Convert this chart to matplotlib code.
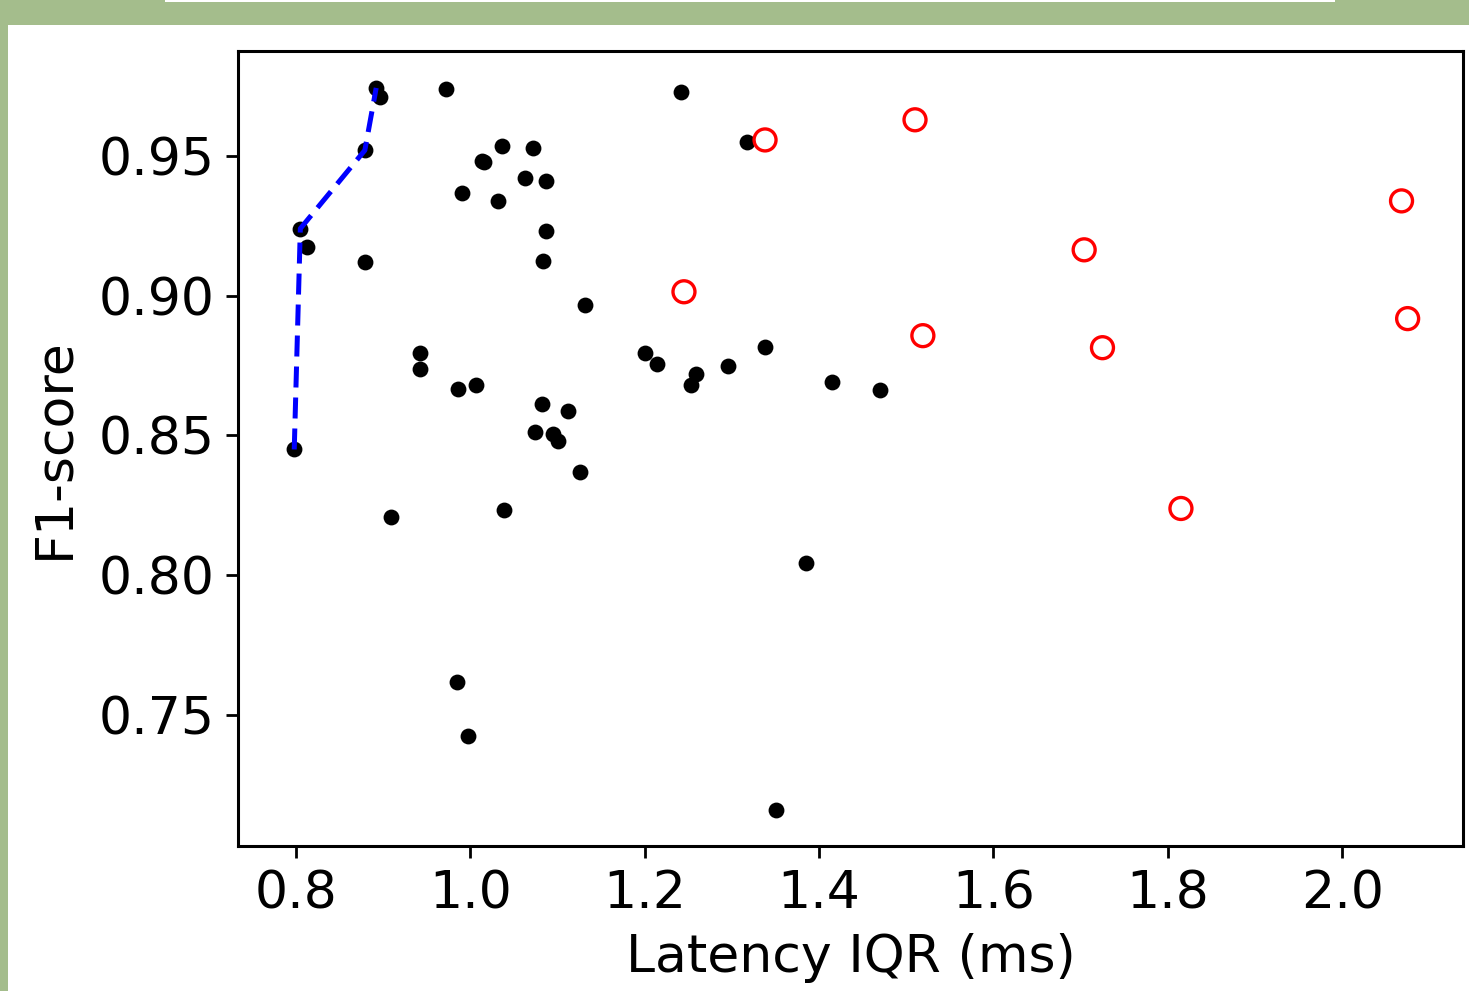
import matplotlib
matplotlib.use("Agg")
import matplotlib.pyplot as plt
from matplotlib.patches import Rectangle

# Data
black_x = [0.798, 0.805, 0.813, 0.879, 0.892, 0.896, 0.879, 0.909, 0.972, 0.990,
           1.013, 1.016, 1.036, 1.032, 1.063, 1.072, 1.087, 1.087, 1.083, 1.132,
           0.942, 0.942, 0.986, 1.006, 1.082, 1.112, 1.074, 1.095, 1.100, 1.126,
           1.039, 0.985, 0.997, 1.242, 1.317, 1.200, 1.214, 1.259, 1.253, 1.295,
           1.338, 1.415, 1.470, 1.385, 1.350]
black_y = [0.845, 0.924, 0.9175, 0.952, 0.9743, 0.971, 0.912, 0.8207, 0.9739, 0.9368,
           0.9482, 0.9478, 0.9536, 0.934, 0.9421, 0.9529, 0.9411, 0.9232, 0.9125, 0.8968,
           0.8796, 0.8739, 0.8668, 0.8682, 0.8614, 0.8589, 0.8514, 0.8507, 0.8482, 0.8368,
           0.8232, 0.7618, 0.7425, 0.9729, 0.955, 0.8796, 0.8757, 0.8721, 0.8679, 0.875,
           0.8818, 0.8693, 0.8664, 0.8043, 0.7161]

red_x = [1.338, 1.510, 1.245, 1.519, 1.704, 1.725, 2.068, 2.075, 1.815]
red_y = [0.9557, 0.9629, 0.9014, 0.8857, 0.9164, 0.8814, 0.9339, 0.8918, 0.8239]

front_x = [0.798, 0.805, 0.879, 0.892]
front_y = [0.845, 0.924, 0.952, 0.9743]

x_ticks = [0.8, 1.0, 1.2, 1.4, 1.6, 1.8, 2.0]
y_ticks = [0.75, 0.80, 0.85, 0.90, 0.95]

W, H = 1469, 991
fig = plt.figure(figsize=(W / 100, H / 100), dpi=100)
fig.patch.set_facecolor("white")

green = "#a4bd8c"
fig.patches.append(Rectangle((0, 1 - 25 / H), 1, 25 / H, transform=fig.transFigure,
                             facecolor=green, edgecolor="none", zorder=0))
fig.patches.append(Rectangle((0, 0), 8 / W, 1, transform=fig.transFigure,
                             facecolor=green, edgecolor="none", zorder=0))
fig.patches.append(Rectangle((165 / W, 1 - 2 / H), (1335 - 165) / W, 2 / H,
                             transform=fig.transFigure, facecolor="white",
                             edgecolor="none", zorder=1))

ax = fig.add_axes([238 / W, 1 - 846 / H, (1463 - 238) / W, (846 - 51) / H])

ax.plot(front_x, front_y, color="blue", lw=3.6, linestyle=(0, (4.2, 2.0)), zorder=3)
ax.scatter(black_x, black_y, s=130, color="black", linewidths=0, zorder=2)
ax.scatter(red_x, red_y, s=250, facecolors="none", edgecolors="red", linewidths=2.4, zorder=2)

ax.set_xlim(0.7335, 2.1385)
ax.set_ylim(0.7032, 0.9875)
ax.set_xticks(x_ticks)
ax.set_xticklabels([f"{v:.1f}" for v in x_ticks])
ax.set_yticks(y_ticks)
ax.set_yticklabels([f"{v:.2f}" for v in y_ticks])

fs = 37.5
ax.tick_params(axis="both", labelsize=fs, length=8.6, width=2.0, pad=8)
for s in ax.spines.values():
    s.set_linewidth(2.2)

ax.set_xlabel("Latency IQR (ms)", fontsize=fs, labelpad=10)
ax.set_ylabel("F1-score", fontsize=fs, labelpad=14)

fig.savefig("out.png", dpi=100, facecolor=fig.get_facecolor())
